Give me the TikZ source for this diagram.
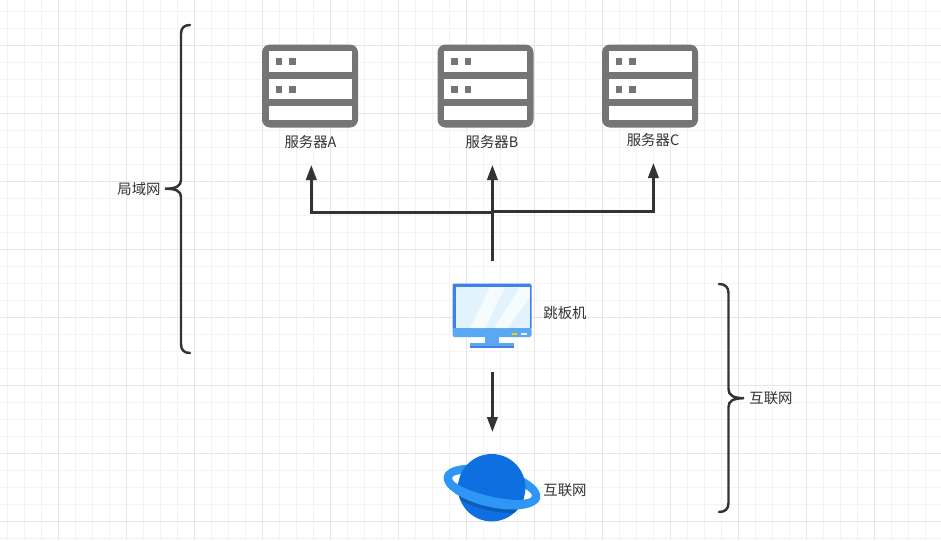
\documentclass[tikz,border=0pt]{standalone}
\usepackage{fontspec}
\setmainfont{Noto Sans CJK SC}
\usetikzlibrary{arrows.meta}
\definecolor{gridminor}{HTML}{F3F3F3}
\definecolor{gridmajor}{HTML}{E6E6E6}
\definecolor{ink}{HTML}{333333}
\definecolor{srv}{HTML}{757575}
\definecolor{monframe}{HTML}{3F80EA}
\definecolor{monband}{HTML}{5AA8F2}
\definecolor{monscreen}{HTML}{E2F3FD}
\definecolor{planet}{HTML}{0D6FE0}
\definecolor{planetdark}{HTML}{0B5CB8}
\definecolor{ring}{HTML}{2E96F5}
\tikzset{
  x=0.75pt,y=-0.75pt,
  conn/.style={draw=ink,line width=1.95pt},
  connarrow/.style={conn,-{Triangle[length=11.25pt,width=7.8pt]}},
  bracket/.style={draw=ink,line width=1.85pt,line cap=round},
  lbl/.style={font=\fontsize{10.8pt}{12pt}\selectfont,text=ink,inner sep=0pt},
  anchorbox/.style={inner sep=0pt,minimum width=72pt,minimum height=62pt},
  srvsq/.style={fill=srv,draw=none},
  serverpic/.pic={
    \fill[srv,rounded corners=6pt] (-48,-41.5) rectangle (48,41.5);
    \fill[white] (-41.5,-35) rectangle (41.5,-14.5);
    \fill[white] (-41.5,-7.5) rectangle (41.5,13);
    \fill[white] (-41.5,20) rectangle (41.5,34);
    \fill[srvsq] (-34.5,-28) rectangle (-27.7,-21);
    \fill[srvsq] (-21,-28) rectangle (-14.2,-21);
    \fill[srvsq] (-34.5,-0.5) rectangle (-27.7,6.5);
    \fill[srvsq] (-21,-0.5) rectangle (-14.2,6.5);
  }
}
\begin{document}
\begin{tikzpicture}
\useasboundingbox (0,0) rectangle (941,540);
\fill[white] (0,0) rectangle (941,540);
% grid
\foreach \i in {0,...,55} {\draw[gridminor,line width=0.75pt] ({7+17*\i},0) -- ({7+17*\i},540);}
\foreach \i in {0,...,31} {\draw[gridminor,line width=0.75pt] (0,{11+17*\i}) -- (941,{11+17*\i});}
\foreach \i in {0,...,13} {\draw[gridmajor,line width=0.75pt] ({58+68*\i},0) -- ({58+68*\i},540);}
\foreach \i in {0,...,7} {\draw[gridmajor,line width=0.75pt] (0,{45+68*\i}) -- (941,{45+68*\i});}

% servers
\pic at (310,86) {serverpic};
\pic at (485.5,86) {serverpic};
\pic at (650,86) {serverpic};
\node[anchorbox] (srvA) at (310,86) {};
\node[anchorbox] (srvB) at (485.5,86) {};
\node[anchorbox] (srvC) at (650,86) {};
\node[lbl] (lblA) at (310.5,142) {服务器A};
\node[lbl] (lblB) at (492,142) {服务器B};
\node[lbl] (lblC) at (653,140) {服务器C};

% monitor
\fill[monframe,rounded corners=1.5pt] (452.5,283.5) rectangle (531.5,330);
\fill[monband,rounded corners=1.5pt] (452.5,328) rectangle (531.5,337);
\fill[monscreen] (455.5,287) rectangle (529.5,328);
\fill[white,opacity=.7] (470,328) -- (485,328) -- (505,287) -- (490,287) -- cycle;
\fill[white,opacity=.7] (494,328) -- (508,328) -- (529.5,297) -- (529.5,287) -- (520,287) -- cycle;
\fill[monband] (485,337) rectangle (499,343);
\fill[monband] (470,342.7) rectangle (514,345.5);
\fill[monframe] (470,345.5) rectangle (514,348);
\fill[yellow!70!orange] (511.7,332.7) rectangle (517.3,334.7);
\fill[white!85!monband] (521,332.7) rectangle (527,334.7);
\node[inner sep=0pt,minimum width=59pt,minimum height=48pt] (pc) at (492,316) {};
\node[lbl] (lblPc) at (565,313) {跳板机};

% planet
\node[circle,inner sep=0pt,minimum size=50.5pt] (globe) at (491.7,487.7) {};
\begin{scope}[shift={(492,487)},rotate=-13]
  \fill[ring,even odd rule] (0,0) ellipse [x radius=49.5,y radius=20] (0,0) ellipse [x radius=41,y radius=9.5];
\end{scope}
\fill[planet] (491.7,487.7) circle [radius=33.7];
\begin{scope}
  \clip (491.7,487.7) circle [radius=33.7];
  \begin{scope}[shift={(492,490.5)},rotate=-13]
    \clip (-60,0) rectangle (60,40);
    \fill[planetdark] (0,0) ellipse [x radius=49.5,y radius=20];
    \fill[planet] (0,-0.5) ellipse [x radius=41,y radius=8];
  \end{scope}
\end{scope}
\begin{scope}[shift={(492,487)},rotate=-13]
  \clip (-60,0) rectangle (60,40);
  \fill[ring,even odd rule] (0,0) ellipse [x radius=49.5,y radius=20] (0,0) ellipse [x radius=41,y radius=9.5];
\end{scope}
\node[lbl] (lblNet) at (565,490) {互联网};

% connectors
\coordinate (tipA) at (311.3,165);
\coordinate (tipB) at (492.4,165);
\coordinate (tipC) at (653.4,163);
\coordinate (pcTop) at (492.4,261);
\coordinate (pcBot) at (492.4,372);
\coordinate (netTop) at (492.4,432);
\coordinate (busL) at (492.4,212.6);
\coordinate (busR) at (492.4,211.6);
\draw[connarrow] (pcTop) -- (tipB);
\draw[connarrow] (busL) -| (tipA);
\draw[connarrow] (busR) -| (tipC);
\draw[connarrow] (pcBot) -- (netTop);

% braces
\draw[bracket] (190,25) .. controls (184,25) and (181,28) .. (181,34) -- (181,180)
  .. controls (181,186) and (176,188.7) .. (165,188.7)
  .. controls (176,188.7) and (181,191) .. (181,197) -- (181,344)
  .. controls (181,350) and (184,353) .. (190,353);
\draw[bracket] (719,284) .. controls (725,284) and (728.5,287) .. (728.5,293) -- (728.5,389)
  .. controls (728.5,395) and (733,398.2) .. (744,398.2)
  .. controls (733,398.2) and (728.5,401) .. (728.5,407) -- (728.5,503)
  .. controls (728.5,509) and (725,512) .. (719,512);
\node[lbl] (lblLan) at (139,189) {局域网};
\node[lbl] (lblWan) at (771,398) {互联网};
\end{tikzpicture}
\end{document}
